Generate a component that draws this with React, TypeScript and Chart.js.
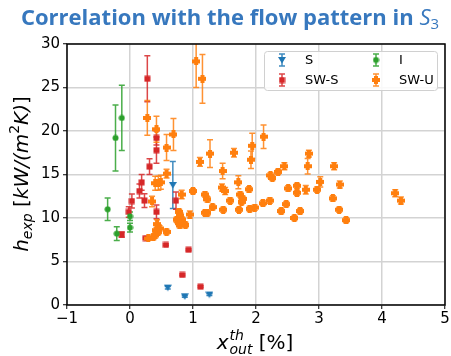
import React, { useEffect, useRef } from "react";
import { Chart, registerables } from "chart.js";

Chart.register(...registerables);

// ---------------- data ----------------
const xTickValues = [-1, 0, 1, 2, 3, 4, 5];
const yTickValues = [0, 5, 10, 15, 20, 25, 30];
const seriesNames = ["S", "SW-S", "I", "SW-U"];
const seriesColors = ["#1f77b4", "#d62728", "#2ca02c", "#ff7f0e"];

// S
const sX = [0.6, 0.87, 1.26, 0.68];
const sY = [2.0, 1.0, 1.2, 13.8];
const sErr = [0.15, 0.1, 0.12, 2.7];

// SW-S
const swsX = [0.275, 0.42, 0.42, 0.31, 0.185, 0.15, 0.03, 0.23, -0.02, 0.42, 0.73, -0.13, 0.25, 0.57, 0.93, 0.83, 1.12];
const swsY = [26.0, 19.2, 17.8, 15.9, 14.1, 13.1, 11.95, 12.0, 10.7, 10.7, 12.0, 8.1, 7.7, 6.9, 6.35, 3.45, 2.1];
const swsErr = [2.65, 0.8, 1.5, 0.9, 0.9, 0.8, 0.8, 0.8, 0.6, 0.8, 1.0, 0.3, 0.1, 0.1, 0.1, 0.1, 0.1];

// I
const iX = [-0.23, -0.13, -0.355, -0.21, 0.0, 0.0];
const iY = [19.2, 21.5, 11.0, 8.2, 10.2, 8.9];
const iErr = [3.8, 3.75, 1.3, 0.8, 0.5, 0.5];

// SW-U
const swuX = [1.05, 1.15, 0.275, 0.42, 0.69, 0.58, 0.58, 0.4, 0.45, 0.49, 0.35, 0.82, 1.0, 1.11, 1.27, 1.19, 1.23, 1.31, 1.19, 1.23,
  0.95, 0.78, 0.8, 0.74, 0.83, 0.78, 0.79, 0.88, 0.43, 0.42, 0.45, 0.4, 0.47, 0.37, 0.29, 0.58, 1.47, 1.46, 1.51, 1.59,
  1.48, 1.65, 1.72, 1.75, 1.79, 1.77, 1.73, 1.89, 1.94, 1.92, 1.9, 1.98, 2.12, 2.11, 2.22, 2.23, 2.26, 2.35, 2.45, 2.4,
  2.48, 2.51, 2.65, 2.65, 2.61, 2.7, 2.79, 2.84, 2.82, 2.97, 3.02, 3.24, 3.33, 3.22, 3.32, 3.43, 4.21, 4.3];
const swuY = [28.0, 26.0, 21.5, 20.2, 19.6, 18.1, 15.1, 14.0, 14.0, 14.1, 11.9, 12.7, 13.1, 16.45, 17.4, 12.7, 12.15, 11.25, 10.6, 10.6,
  10.4, 10.7, 10.3, 9.8, 9.8, 9.4, 9.15, 9.2, 9.3, 8.6, 8.4, 8.0, 8.8, 7.8, 7.65, 8.4, 15.4, 13.5, 13.1, 12.0,
  10.95, 17.5, 14.1, 12.7, 12.2, 11.85, 10.95, 13.3, 18.3, 16.7, 11.05, 11.2, 19.35, 11.7, 12.0, 14.9, 14.6, 15.3, 15.95, 10.8,
  11.6, 13.4, 13.7, 12.9, 10.0, 10.8, 13.25, 17.4, 15.95, 13.25, 14.15, 15.95, 13.85, 12.25, 10.95, 9.75, 12.85, 12.0];
const swuErr = [3.0, 2.8, 2.0, 1.5, 1.85, 1.5, 0.5, 0.8, 0.8, 0.8, 0.6, 0.5, 0.3, 0.5, 1.6, 0.3, 0.3, 0.3, 0.3, 0.3,
  0.4, 0.3, 0.3, 0.3, 0.3, 0.3, 0.3, 0.3, 0.5, 0.3, 0.3, 0.3, 0.3, 0.3, 0.2, 0.3, 0.9, 0.4, 0.4, 0.3,
  0.3, 0.5, 0.75, 0.3, 0.3, 0.3, 0.3, 0.3, 1.45, 1.0, 0.3, 0.3, 1.35, 0.3, 0.3, 0.3, 0.3, 0.3, 0.4, 0.3,
  0.3, 0.3, 0.3, 0.3, 0.3, 0.3, 0.5, 0.4, 0.9, 0.3, 0.6, 0.4, 0.4, 0.3, 0.3, 0.3, 0.4, 0.4];

const seriesX = [sX, swsX, iX, swuX];
const seriesY = [sY, swsY, iY, swuY];
const seriesErr = [sErr, swsErr, iErr, swuErr];
const markerKinds = ["tri", "square", "circle", "plus"];

// ---------------- helpers ----------------
function makeMarker(kind: string, color: string): HTMLCanvasElement {
  const size = kind === "plus" ? 8 : kind === "tri" ? 8 : 7;
  const c = document.createElement("canvas");
  c.width = size;
  c.height = size;
  const g = c.getContext("2d")!;
  g.fillStyle = color;
  if (kind === "tri") {
    g.beginPath();
    g.moveTo(0, 1);
    g.lineTo(size, 1);
    g.lineTo(size / 2, size - 0.5);
    g.closePath();
    g.fill();
  } else if (kind === "square") {
    g.fillRect(0.5, 0.5, size - 1, size - 1);
  } else if (kind === "circle") {
    g.beginPath();
    g.arc(size / 2, size / 2, size / 2 - 0.5, 0, Math.PI * 2);
    g.fill();
  } else {
    const t = 4;
    const o = (size - t) / 2;
    g.fillRect(0, o, size, t);
    g.fillRect(o, 0, t, size);
  }
  return c;
}

function withAlpha(hex: string, a: number) {
  const r = parseInt(hex.slice(1, 3), 16);
  const gg = parseInt(hex.slice(3, 5), 16);
  const b = parseInt(hex.slice(5, 7), 16);
  return `rgba(${r},${gg},${b},${a})`;
}

type Part = { t: string; font: string; dy?: number };

function drawParts(ctx: CanvasRenderingContext2D, parts: Part[], cx: number, baseline: number) {
  const widths = parts.map((p) => {
    ctx.font = p.font;
    return ctx.measureText(p.t).width;
  });
  const total = widths.reduce((a, b) => a + b, 0);
  let x = cx - total / 2;
  ctx.textAlign = "left";
  ctx.textBaseline = "alphabetic";
  parts.forEach((p, i) => {
    ctx.font = p.font;
    ctx.fillText(p.t, x, baseline + (p.dy || 0));
    x += widths[i];
  });
}

let markerImgs: HTMLCanvasElement[] = [];

const errorBarPlugin = {
  id: "errorBars",
  beforeDatasetsDraw(chart: any) {
    const ctx = chart.ctx as CanvasRenderingContext2D;
    const xs = chart.scales.x;
    const ys = chart.scales.y;
    const area = chart.chartArea;
    ctx.save();
    ctx.beginPath();
    ctx.rect(area.left, area.top, area.right - area.left, area.bottom - area.top);
    ctx.clip();
    ctx.lineWidth = 1.5;
    seriesX.forEach((arr, si) => {
      ctx.strokeStyle = withAlpha(seriesColors[si], 0.85);
      arr.forEach((xv, k) => {
        const e = seriesErr[si][k];
        const px = xs.getPixelForValue(xv);
        const top = ys.getPixelForValue(seriesY[si][k] + e);
        const bot = ys.getPixelForValue(seriesY[si][k] - e);
        ctx.beginPath();
        ctx.moveTo(px, top);
        ctx.lineTo(px, bot);
        ctx.moveTo(px - 3, top);
        ctx.lineTo(px + 3, top);
        ctx.moveTo(px - 3, bot);
        ctx.lineTo(px + 3, bot);
        ctx.stroke();
      });
    });
    ctx.restore();
  },
};

const decorPlugin = {
  id: "decor",
  afterDraw(chart: any) {
    const ctx = chart.ctx as CanvasRenderingContext2D;
    const a = chart.chartArea;
    ctx.save();
    // frame
    ctx.strokeStyle = "#000";
    ctx.lineWidth = 1.5;
    ctx.strokeRect(a.left, a.top, a.right - a.left, a.bottom - a.top);

    // legend
    const lx = 264, ly = 51, lw = 173, lh = 39;
    ctx.fillStyle = "rgba(255,255,255,0.85)";
    ctx.strokeStyle = "#d0d0d0";
    ctx.lineWidth = 1;
    ctx.beginPath();
    (ctx as any).roundRect(lx + 0.5, ly + 0.5, lw, lh, 3);
    ctx.fill();
    ctx.stroke();
    const cols = [282, 376];
    const rows = [60, 80];
    const layout = [[0, 0], [0, 1], [1, 0], [1, 1]];
    ctx.font = "13px 'DejaVu Sans'";
    ctx.textBaseline = "middle";
    seriesNames.forEach((name, si) => {
      const mx = cols[layout[si][0]];
      const my = rows[layout[si][1]];
      ctx.strokeStyle = withAlpha(seriesColors[si], 0.85);
      ctx.lineWidth = 1.5;
      ctx.beginPath();
      ctx.moveTo(mx, my - 6);
      ctx.lineTo(mx, my + 6);
      ctx.moveTo(mx - 3, my - 6);
      ctx.lineTo(mx + 3, my - 6);
      ctx.moveTo(mx - 3, my + 6);
      ctx.lineTo(mx + 3, my + 6);
      ctx.stroke();
      const m = markerImgs[si];
      ctx.drawImage(m, mx - m.width / 2, my - m.height / 2);
      ctx.fillStyle = "#000";
      ctx.textAlign = "left";
      ctx.fillText(name, mx + 23, my + 1);
    });

    // title
    ctx.fillStyle = "rgb(55,120,190)";
    drawParts(
      ctx,
      [
        { t: "Correlation with the flow pattern in ", font: "bold 22px 'Open Sans'" },
        { t: "S", font: "italic 22px 'Open Sans'" },
        { t: "3", font: "15px 'Open Sans'", dy: 4 },
      ],
      230,
      25
    );

    // x label
    ctx.fillStyle = "#000";
    {
      const fBig = "oblique 20px 'DejaVu Sans'";
      const fSmall = "oblique 14px 'DejaVu Sans'";
      const fReg = "20px 'DejaVu Sans'";
      ctx.font = fBig;
      const wx = ctx.measureText("x").width;
      ctx.font = fSmall;
      const wss = Math.max(ctx.measureText("th").width, ctx.measureText("out").width);
      ctx.font = fReg;
      const wr = ctx.measureText(" [%]").width;
      const total = wx + 1 + wss + wr;
      let x = 255 - total / 2;
      const base = 349;
      ctx.textAlign = "left";
      ctx.textBaseline = "alphabetic";
      ctx.font = fBig;
      ctx.fillText("x", x, base);
      x += wx + 1;
      ctx.font = fSmall;
      ctx.fillText("th", x, base - 9);
      ctx.fillText("out", x, base + 5);
      x += wss;
      ctx.font = fReg;
      ctx.fillText(" [%]", x, base);
    }
    // y label
    ctx.save();
    ctx.translate(28, 174);
    ctx.rotate(-Math.PI / 2);
    drawParts(
      ctx,
      [
        { t: "h", font: "oblique 20px 'DejaVu Sans'" },
        { t: "exp", font: "oblique 14px 'DejaVu Sans'", dy: 4 },
        { t: " [", font: "20px 'DejaVu Sans'" },
        { t: "kW/(m", font: "oblique 20px 'DejaVu Sans'" },
        { t: "2", font: "14px 'DejaVu Sans'", dy: -9 },
        { t: "K)", font: "oblique 20px 'DejaVu Sans'" },
        { t: "]", font: "20px 'DejaVu Sans'" },
      ],
      0,
      0
    );
    ctx.restore();
    ctx.restore();
  },
};

export default function App() {
  const ref = useRef<HTMLCanvasElement | null>(null);
  useEffect(() => {
    document.body.style.margin = "0";
    markerImgs = markerKinds.map((k, i) => makeMarker(k, seriesColors[i]));
    const datasets = seriesNames.map((name, si) => ({
      label: name,
      data: seriesX[si].map((x, k) => ({ x, y: seriesY[si][k] })),
      pointStyle: markerImgs[si] as any,
      backgroundColor: seriesColors[si],
      borderColor: seriesColors[si],
      showLine: false,
      order: 4 - si,
    }));
    const fmt = (v: any) => String(v).replace("-", "\u2212");
    const chart = new Chart(ref.current!, {
      type: "scatter",
      data: { datasets },
      plugins: [errorBarPlugin, decorPlugin],
      options: {
        animation: false,
        responsive: false,
        events: [],
        layout: { padding: { left: 0, top: 44, right: 6, bottom: 0 } },
        plugins: { legend: { display: false }, tooltip: { enabled: false }, title: { display: false } },
        scales: {
          x: {
            type: "linear",
            min: -1,
            max: 5,
            afterBuildTicks: (s: any) => {
              s.ticks = xTickValues.map((v) => ({ value: v }));
            },
            afterFit: (s: any) => {
              s.height = 51;
              s.paddingLeft = 0;
              s.paddingRight = 0;
            },
            ticks: { callback: fmt, color: "#000", font: { family: "DejaVu Sans", size: 15 }, padding: 1, maxRotation: 0 },
            grid: { color: "#d3d3d3", lineWidth: 1.5, tickColor: "#000", tickLength: 4, tickWidth: 1 },
            border: { display: false },
          },
          y: {
            type: "linear",
            min: 0,
            max: 30,
            afterBuildTicks: (s: any) => {
              s.ticks = yTickValues.map((v) => ({ value: v }));
            },
            afterFit: (s: any) => {
              s.width = 67;
              s.paddingTop = 0;
              s.paddingBottom = 0;
            },
            ticks: { callback: fmt, color: "#000", font: { family: "DejaVu Sans", size: 15 }, padding: 3 },
            grid: { color: "#d3d3d3", lineWidth: 1.5, tickColor: "#000", tickLength: 4, tickWidth: 1 },
            border: { display: false },
          },
        },
      },
    });
    return () => chart.destroy();
  }, []);
  return <canvas ref={ref} width={451} height={356} style={{ display: "block" }} />;
}
